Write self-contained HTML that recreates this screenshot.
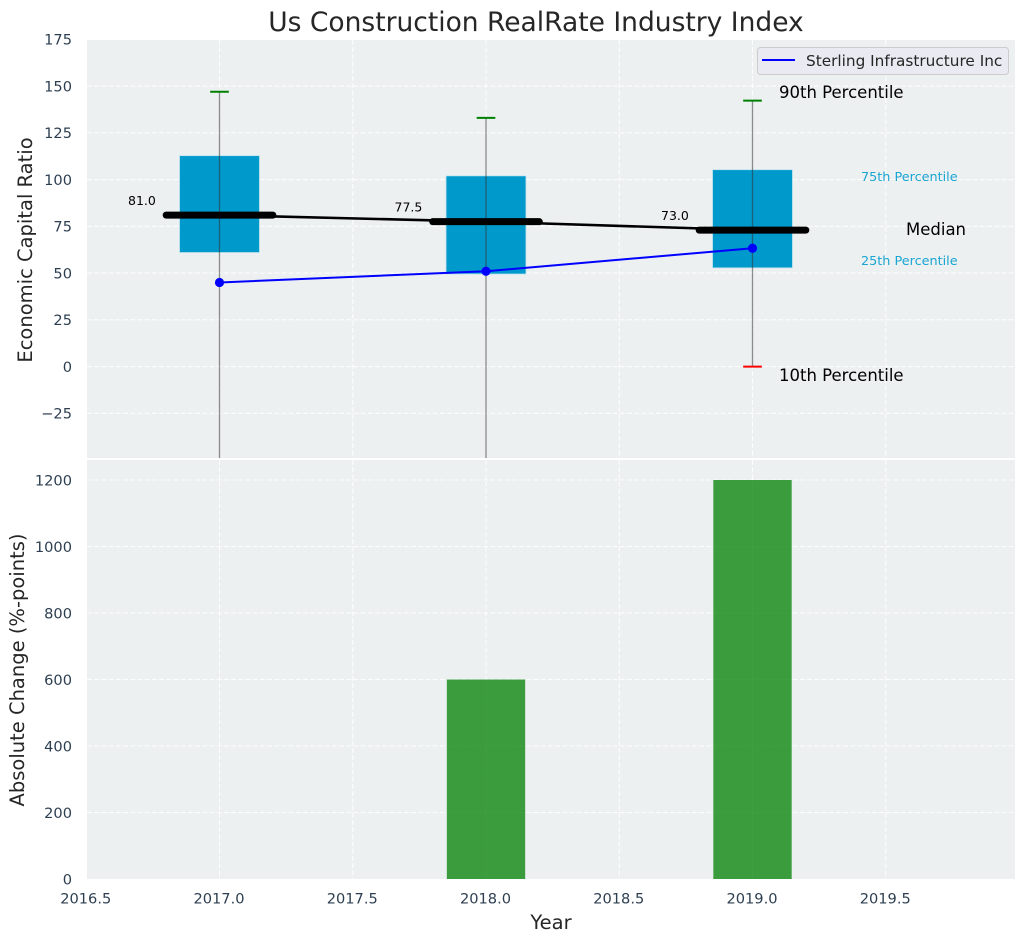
<!DOCTYPE html>
<html>
<head>
<meta charset="utf-8">
<title>Us Construction RealRate Industry Index</title>
<style>
html,body{margin:0;padding:0;background:#fff;}
svg{display:block;font-family:"DejaVu Sans","Liberation Sans",sans-serif;}
</style>
</head>
<body>
<svg id="chart" width="1026" height="942" viewBox="0 0 1026 942" xmlns="http://www.w3.org/2000/svg"></svg>
<script>
const years = [2017, 2018, 2019];
const p10 = [-60, -60, 0];
const p25 = [61, 49.5, 52.8];
const medians = [81, 77.5, 73];
const p75 = [112.8, 102, 105.3];
const p90 = [147, 133, 142.2];
const company = [45, 51, 63.3];
const changes = [0, 600, 1200];
const xTicks = [2016.5, 2017, 2017.5, 2018, 2018.5, 2019, 2019.5];
const yTicksTop = [-25, 0, 25, 50, 75, 100, 125, 150, 175];
const yTicksBottom = [0, 200, 400, 600, 800, 1000, 1200];

const NS = 'http://www.w3.org/2000/svg';
const svg = document.getElementById('chart');
const L = 87, R = 1015, T1 = 40, B1 = 458, T2 = 460, B2 = 879;
const xS = v => 219.5 + (v - 2017) * 266.5;
const yA = v => 366.6 - v * 1.87;
const yB = v => 879 - v * 0.3325;

function make(tag, attrs, text) {
  const el = document.createElementNS(NS, tag);
  for (const k in attrs) el.setAttribute(k, attrs[k]);
  if (text !== undefined) el.textContent = text;
  return el;
}
function clipRect(id, x, y, w, h) {
  const c = make('clipPath', {id: id});
  c.appendChild(make('rect', {x: x, y: y, width: w, height: h}));
  svg.appendChild(c);
}
clipRect('clip-top', L, T1, R - L, B1 - T1);
clipRect('clip-bottom', L, T2, R - L, B2 - T2);

const topPanel = make('rect', {x: L, y: T1, width: R - L, height: B1 - T1, fill: '#ecf0f1'});


svg.appendChild(topPanel);
const bottomPanel = make('rect', {x: L, y: T2, width: R - L, height: B2 - T2, fill: '#ecf0f1'});


svg.appendChild(bottomPanel);

const gridStyle = {stroke: '#ffffff', 'stroke-width': 1.1, 'stroke-dasharray': '5 2.2', 'stroke-opacity': 0.85, fill: 'none'};
xTicks.forEach(v => {
  if (v === 2016.5) return;
  [[T1, B1], [T2, B2]].forEach((r, i) => {
    const g = make('line', Object.assign({x1: xS(v), x2: xS(v), y1: r[0], y2: r[1]}, gridStyle));
    
    
    svg.appendChild(g);
  });
});
yTicksTop.forEach(v => {
  const g = make('line', Object.assign({x1: L, x2: R, y1: yA(v), y2: yA(v)}, gridStyle));
  
  
  svg.appendChild(g);
  const t = make('text', {x: 72, y: yA(v) + 5.3, 'text-anchor': 'end', 'font-size': 14.6, fill: '#2c3e50'}, v < 0 ? '\u2212' + Math.abs(v) : String(v));
  
  
  svg.appendChild(t);
});
yTicksBottom.forEach(v => {
  if (v > 0) {
    const g = make('line', Object.assign({x1: L, x2: R, y1: yB(v), y2: yB(v)}, gridStyle));
    
    
    svg.appendChild(g);
  }
  const t = make('text', {x: 72, y: yB(v) + 5.3, 'text-anchor': 'end', 'font-size': 14.6, fill: '#2c3e50'}, String(v));
  
  
  svg.appendChild(t);
});
xTicks.forEach(v => {
  const t = make('text', {x: xS(v) - 0.5, y: 903.5, 'text-anchor': 'middle', 'font-size': 14.6, fill: '#2c3e50'}, v.toFixed(1));
  
  
  svg.appendChild(t);
});

const topG = make('g', {'clip-path': 'url(#clip-top)'});


svg.appendChild(topG);
const botG = make('g', {'clip-path': 'url(#clip-bottom)'});


svg.appendChild(botG);

const halfBox = 0.15, halfMedian = 0.2, halfCap = 0.035;

years.forEach((yr, i) => {
  const box = make('rect', {x: xS(yr - halfBox), y: yA(p75[i]), width: xS(yr + halfBox) - xS(yr - halfBox), height: yA(p25[i]) - yA(p75[i]), fill: '#0099cc', stroke: '#bfe3ee', 'stroke-width': 0.8});
  
  
  topG.appendChild(box);
});

const medianPath = make('polyline', {points: years.map((y, i) => xS(y) + ',' + yA(medians[i])).join(' '), fill: 'none', stroke: '#000', 'stroke-width': 2.6});


topG.appendChild(medianPath);

years.forEach((yr, i) => {
  const w = make('line', {x1: xS(yr), x2: xS(yr), y1: yA(p90[i]), y2: yA(p10[i]), stroke: '#333', 'stroke-opacity': 0.55, 'stroke-width': 1.3});
  
  
  topG.appendChild(w);
  const capTop = make('line', {x1: xS(yr - halfCap), x2: xS(yr + halfCap), y1: yA(p90[i]), y2: yA(p90[i]), stroke: '#008000', 'stroke-width': 2});
  
  
  topG.appendChild(capTop);
  const capLow = make('line', {x1: xS(yr - halfCap), x2: xS(yr + halfCap), y1: yA(p10[i]), y2: yA(p10[i]), stroke: '#ff0000', 'stroke-width': 2});
  
  
  topG.appendChild(capLow);
  const med = make('line', {x1: xS(yr - halfMedian), x2: xS(yr + halfMedian), y1: yA(medians[i]), y2: yA(medians[i]), stroke: '#000', 'stroke-width': 7, 'stroke-linecap': 'round'});
  
  
  topG.appendChild(med);
  const lab = make('text', {x: xS(yr) - 91.5, y: yA(medians[i]) - 10, 'font-size': 12.5, fill: '#000'}, medians[i].toFixed(1));
  
  
  topG.appendChild(lab);
});

const companyLine = make('polyline', {points: years.map((y, i) => xS(y) + ',' + yA(company[i])).join(' '), fill: 'none', stroke: '#0000ff', 'stroke-width': 2});


topG.appendChild(companyLine);
years.forEach((yr, i) => {
  const c = make('circle', {cx: xS(yr), cy: yA(company[i]), r: 4.6, fill: '#0000ff'});
  
  
  topG.appendChild(c);
});

years.forEach((yr, i) => {
  const b = make('rect', {x: xS(yr - 0.147), y: yB(changes[i]), width: xS(yr + 0.147) - xS(yr - 0.147), height: yB(0) - yB(changes[i]), fill: '#008000', 'fill-opacity': 0.75});
  
  
  botG.appendChild(b);
});

const n90 = make('text', {x: 779, y: 98, 'font-size': 16.5, fill: '#000'}, '90th Percentile');


svg.appendChild(n90);
const n75 = make('text', {x: 861, y: 181, 'font-size': 12.8, fill: '#1aa5d3'}, '75th Percentile');


svg.appendChild(n75);
const nMed = make('text', {x: 906, y: 235, 'font-size': 16.5, fill: '#000'}, 'Median');


svg.appendChild(nMed);
const n25 = make('text', {x: 861, y: 265, 'font-size': 12.8, fill: '#1aa5d3'}, '25th Percentile');


svg.appendChild(n25);
const n10 = make('text', {x: 779, y: 381, 'font-size': 16.5, fill: '#000'}, '10th Percentile');


svg.appendChild(n10);

const legendBox = make('rect', {x: 757.5, y: 47.5, width: 251, height: 27, rx: 3, fill: '#eaeaf2', stroke: '#cccccc', 'stroke-width': 1});


svg.appendChild(legendBox);
const legendLine = make('line', {x1: 762, x2: 795, y1: 60, y2: 60, stroke: '#0000ff', 'stroke-width': 2});


svg.appendChild(legendLine);
const legendText = make('text', {x: 806, y: 66, 'font-size': 15.3, fill: '#262626'}, 'Sterling Infrastructure Inc');


svg.appendChild(legendText);

const title = make('text', {x: 536, y: 31, 'text-anchor': 'middle', 'font-size': 26.5, fill: '#262626'}, 'Us Construction RealRate Industry Index');


svg.appendChild(title);
const yt1 = make('text', {transform: 'translate(32,250) rotate(-90)', 'text-anchor': 'middle', 'font-size': 19.5, fill: '#262626'}, 'Economic Capital Ratio');


svg.appendChild(yt1);
const yt2 = make('text', {transform: 'translate(24,670) rotate(-90)', 'text-anchor': 'middle', 'font-size': 19.5, fill: '#262626'}, 'Absolute Change (%-points)');


svg.appendChild(yt2);
const xt = make('text', {x: 551, y: 929, 'text-anchor': 'middle', 'font-size': 19.5, fill: '#262626'}, 'Year');


svg.appendChild(xt);
</script>
</body>
</html>
